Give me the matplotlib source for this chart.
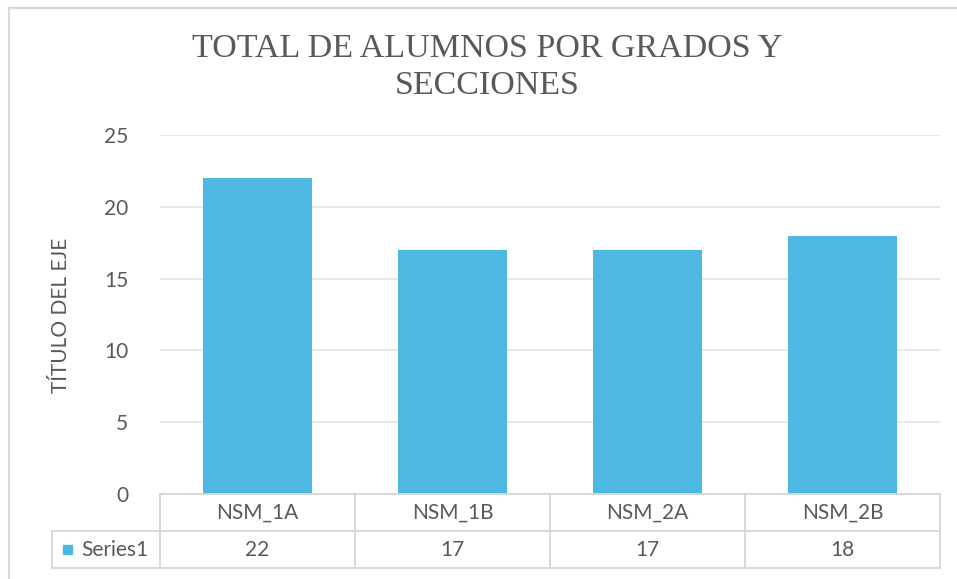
import matplotlib
matplotlib.use("Agg")
import matplotlib.pyplot as plt
from matplotlib.lines import Line2D
from matplotlib.patches import Rectangle

categories = ["NSM_1A", "NSM_1B", "NSM_2A", "NSM_2B"]
values = [22, 17, 17, 18]
series_name = "Series1"
yticks = [0, 5, 10, 15, 20, 25]
title = "TOTAL DE ALUMNOS POR GRADOS Y\nSECCIONES"
ylabel = "TÍTULO DEL EJE"

W, H = 957, 579
fig = plt.figure(figsize=(W / 100, H / 100), dpi=100)
sans = ["Lato", "DejaVu Sans"]
txt_color = "#595959"
grid_color = "#e3e3e3"
bar_color = "#4DB8E2"
fs = 15


def fx(px):
    return px / W


def fy(py):
    return 1 - py / H


x0, x1, y0, y1 = 160, 940, 494, 135
ax = fig.add_axes([fx(x0), fy(y0), fx(x1) - fx(x0), fy(y1) - fy(y0)])
xs = list(range(len(categories)))
ax.bar(xs, values, width=0.555, color=bar_color, zorder=3)
ax.set_xlim(-0.5, len(categories) - 0.5)
ax.set_ylim(0, 25)
ax.set_yticks(yticks)
ax.set_yticklabels([str(t) for t in yticks], fontsize=fs, color=txt_color, family=sans)
ax.tick_params(axis="y", length=0, pad=23)
ax.set_xticks([])
for s in ["top", "right", "left", "bottom"]:
    ax.spines[s].set_visible(False)
ax.yaxis.grid(True, color=grid_color, linewidth=1.2, zorder=0)
ax.set_axisbelow(True)
fig.text(fx(61), fy(315), ylabel, rotation=90, ha="center", va="center",
         fontsize=fs, color=txt_color, family=sans)

# title
fig.text(fx(487), fy(67), title, ha="center", va="center", fontsize=24.5,
         color=txt_color, family=["Liberation Serif", "DejaVu Serif"], linespacing=1.27)

# data table
tcol = "#d6d6d6"
r0, r1, r2 = 494, 531, 568
lw = 1.3


def hline(xa, xb, y):
    fig.add_artist(Line2D([fx(xa), fx(xb)], [fy(y), fy(y)], color=tcol, lw=lw))


def vline(x, ya, yb):
    fig.add_artist(Line2D([fx(x), fx(x)], [fy(ya), fy(yb)], color=tcol, lw=lw))


hline(x0, x1, r0)
hline(52, x1, r1)
hline(52, x1, r2)
vline(52, r1, r2)
colw = (x1 - x0) / len(categories)
for i in range(len(categories) + 1):
    vline(x0 + i * colw, r0, r2)
for i, (c, v) in enumerate(zip(categories, values)):
    cx = x0 + (i + 0.5) * colw
    fig.text(fx(cx), fy((r0 + r1) / 2), c, ha="center", va="center",
             fontsize=fs, color=txt_color, family=sans)
    fig.text(fx(cx), fy((r1 + r2) / 2), str(v), ha="center", va="center",
             fontsize=fs, color=txt_color, family=sans)
fig.add_artist(Rectangle((fx(63), fy(554)), fx(9), fy(545) - fy(554), color=bar_color,
                         transform=fig.transFigure))
fig.text(fx(81), fy((r1 + r2) / 2), series_name, ha="left", va="center",
         fontsize=fs, color=txt_color, family=sans)

# chart frame
fig.add_artist(Line2D([fx(9), fx(957)], [fy(8), fy(8)], color="#d9d9d9", lw=1.5))
fig.add_artist(Line2D([fx(9), fx(9)], [fy(8), fy(579)], color="#d9d9d9", lw=1.5))

fig.savefig("out.png", dpi=100)
